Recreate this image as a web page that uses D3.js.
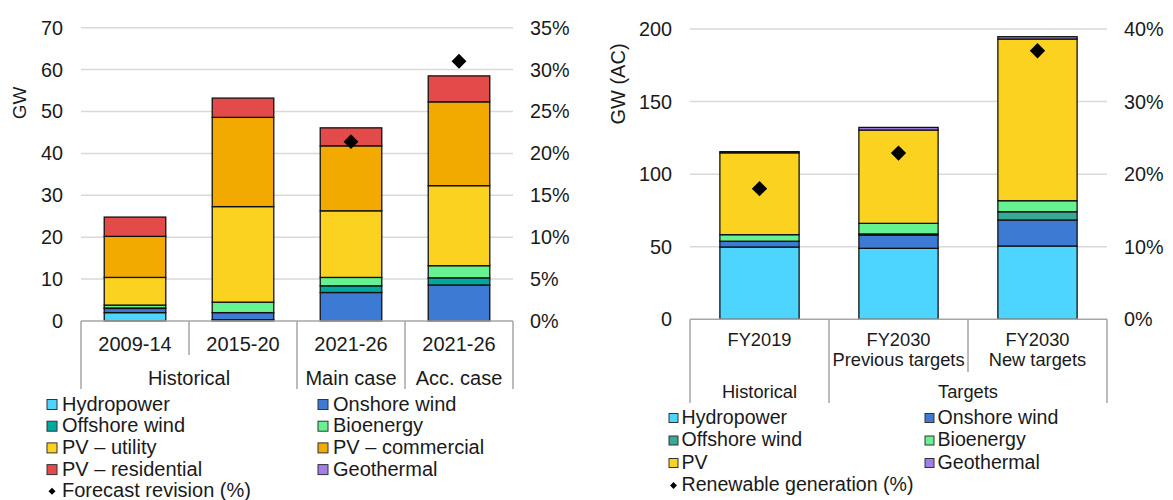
<!DOCTYPE html>
<html>
<head>
<meta charset="utf-8">
<script src="https://cdn.jsdelivr.net/npm/d3@7"></script>
<style>
  body { margin: 0; background: #fff; }
  svg { font-family: "Liberation Sans", Arial, sans-serif; }
</style>
</head>
<body>
<div id="chart"></div>
<script>
// Left panel data
var leftCategories = ['2009-14', '2015-20', '2021-26', '2021-26'];
var leftGroups = [
  {label: 'Historical', from: 0, to: 1},
  {label: 'Main case', from: 2, to: 2},
  {label: 'Acc. case', from: 3, to: 3}
];
var leftSeries = ['Hydropower', 'Onshore wind', 'Offshore wind', 'Bioenergy', 'PV \u2013 utility', 'PV \u2013 commercial', 'PV \u2013 residential', 'Geothermal'];
var leftHydro = [2.0, 0.3, 0, 0];
var leftOnshore = [1.0, 1.7, 6.8, 8.6];
var leftOffshore = [0.1, 0, 1.6, 1.7];
var leftBio = [0.7, 2.5, 2.0, 2.9];
var leftPvUtility = [6.6, 22.8, 15.9, 19.1];
var leftPvCommercial = [9.8, 21.3, 15.5, 20.0];
var leftPvResidential = [4.6, 4.6, 4.3, 6.2];
var leftGeo = [0, 0, 0, 0];
var leftRevision = [null, null, 21.4, 31.0];
var leftTicks = [0, 10, 20, 30, 40, 50, 60, 70];
var leftPctTicks = [0, 5, 10, 15, 20, 25, 30, 35];

// Right panel data
var rightCategories = [['FY2019'], ['FY2030', 'Previous targets'], ['FY2030', 'New targets']];
var rightGroups = [
  {label: 'Historical', from: 0, to: 0},
  {label: 'Targets', from: 1, to: 2}
];
var rightSeries = ['Hydropower', 'Onshore wind', 'Offshore wind', 'Bioenergy', 'PV', 'Geothermal'];
var rightHydro = [49.8, 48.9, 50.5];
var rightOnshore = [3.9, 9.1, 17.9];
var rightOffshore = [0.1, 0.8, 5.7];
var rightBio = [4.5, 7.3, 7.6];
var rightPv = [56.4, 64.3, 111.4];
var rightGeo = [0.8, 1.8, 1.6];
var rightGeneration = [18.0, 22.9, 37.0];
var rightTicks = [0, 50, 100, 150, 200];
var rightPctTicks = [0, 10, 20, 30, 40];

var colors = {
  'Hydropower': '#4dd5ff',
  'Onshore wind': '#3c7ad3',
  'Offshore wind': '#00a99d',
  'Bioenergy': '#66f291',
  'PV \u2013 utility': '#fcd221',
  'PV': '#fcd221',
  'PV \u2013 commercial': '#f2a900',
  'PV \u2013 residential': '#e34b4b',
  'Geothermal': '#a47de8'
};

var svg = d3.select('#chart').append('svg')
  .attr('width', 1173)
  .attr('height', 500);

function drawPanel(cfg) {
  var g = svg.append('g');
  var n = cfg.categories.length;
  var col = function (k) { return (cfg.colors && cfg.colors[k]) || colors[k]; };

  var x = d3.scaleBand()
    .domain(d3.range(n))
    .range([cfg.x0, cfg.x1])
    .paddingInner(0.43)
    .paddingOuter(0.215);
  var bandX = d3.scaleBand()
    .domain(d3.range(n))
    .range([cfg.x0, cfg.x1]);
  var y = d3.scaleLinear().domain([0, cfg.max]).range([cfg.y0, cfg.y1]);
  var yPct = d3.scaleLinear().domain([0, cfg.pctMax]).range([cfg.y0, cfg.y1]);

  // gridlines
  g.selectAll('.grid').data(cfg.ticks.slice(1)).enter().append('line')
    .attr('x1', cfg.x0).attr('x2', cfg.x1)
    .attr('y1', function (d) { return y(d); })
    .attr('y2', function (d) { return y(d); })
    .style('stroke', '#d9d9d9').style('stroke-width', 1.5);

  // left axis labels
  g.selectAll('.ly').data(cfg.ticks).enter().append('text')
    .attr('x', cfg.leftLabelX)
    .attr('y', function (d) { return y(d); })
    .attr('dy', '0.35em')
    .attr('text-anchor', 'end')
    .style('font-size', '19.8px')
    .style('fill', '#1a1a1a')
    .text(function (d) { return d; });

  // right axis labels
  g.selectAll('.ry').data(cfg.pctTicks).enter().append('text')
    .attr('x', cfg.rightLabelX)
    .attr('y', function (d) { return yPct(d); })
    .attr('dy', '0.35em')
    .style('font-size', '19.8px')
    .style('fill', '#1a1a1a')
    .text(function (d) { return d + '%'; });

  // axis title
  g.append('text')
    .attr('transform', 'translate(' + cfg.titleX + ',' + cfg.titleY + ') rotate(-90)')
    .attr('text-anchor', 'middle')
    .style('font-size', cfg.titleSize)
    .style('fill', '#1a1a1a')
    .text(cfg.title);

  // stacked bars
  var rows = d3.range(n).map(function (i) {
    var r = {i: i};
    cfg.series.forEach(function (s, k) { r[s] = cfg.values[k][i]; });
    return r;
  });
  var stacked = d3.stack().keys(cfg.series)(rows);
  g.selectAll('.layer').data(stacked).enter().append('g')
    .style('fill', function (d) { return col(d.key); })
    .selectAll('rect').data(function (d) { return d.filter(function (p) { return p[1] - p[0] > 0; }); })
    .enter().append('rect')
    .attr('x', function (d) { return x(d.data.i); })
    .attr('width', x.bandwidth())
    .attr('y', function (d) { return y(d[1]); })
    .attr('height', function (d) { return y(d[0]) - y(d[1]); })
    .style('stroke', '#111')
    .style('stroke-width', 1.3);

  // diamonds
  var sym = d3.symbol().type(d3.symbolDiamond2).size(cfg.markerSize);
  g.selectAll('.dia').data(cfg.markers.map(function (v, i) { return {v: v, i: i}; })
      .filter(function (d) { return d.v !== null; }))
    .enter().append('path')
    .attr('d', sym)
    .attr('transform', function (d) {
      return 'translate(' + (x(d.i) + x.bandwidth() / 2) + ',' + yPct(d.v) + ')';
    })
    .style('fill', '#000');

  // category box lines
  var lineColor = '#a6a6a6';
  g.append('line')
    .attr('x1', cfg.x0).attr('x2', cfg.x1)
    .attr('y1', cfg.y0).attr('y2', cfg.y0)
    .style('stroke', lineColor).style('stroke-width', 1.5);
  var edges = [];
  edges.push({x: bandX(0), full: true});
  d3.range(1, n).forEach(function (i) {
    var full = cfg.groups.some(function (gr) { return gr.from === i; });
    edges.push({x: bandX(i), full: full});
  });
  edges.push({x: cfg.x1, full: true});
  g.selectAll('.edge').data(edges).enter().append('line')
    .attr('x1', function (d) { return d.x; })
    .attr('x2', function (d) { return d.x; })
    .attr('y1', cfg.y0)
    .attr('y2', function (d) { return d.full ? cfg.boxBottom : cfg.innerBottom; })
    .style('stroke', lineColor).style('stroke-width', 1.5);

  // category labels
  cfg.categories.forEach(function (c, i) {
    var lines = Array.isArray(c) ? c : [c];
    lines.forEach(function (t, j) {
      g.append('text')
        .attr('x', bandX(i) + bandX.bandwidth() / 2)
        .attr('y', cfg.catY + j * cfg.catLine)
        .attr('text-anchor', 'middle')
        .style('font-size', cfg.catSize)
        .style('fill', '#1a1a1a')
        .text(t);
    });
  });
  cfg.groups.forEach(function (gr) {
    g.append('text')
      .attr('x', (bandX(gr.from) + bandX(gr.to) + bandX.bandwidth()) / 2)
      .attr('y', cfg.groupY)
      .attr('text-anchor', 'middle')
      .style('font-size', cfg.catSize)
      .style('fill', '#1a1a1a')
      .text(gr.label);
  });

  // legend
  var items = cfg.series.map(function (s) { return {key: s, type: 'box'}; });
  items.push({key: cfg.markerLabel, type: 'diamond'});
  var leg = g.selectAll('.leg').data(items).enter().append('g')
    .attr('transform', function (d, k) {
      var c = k < cfg.series.length ? k % 2 : 0;
      var row = Math.floor(k / 2);
      return 'translate(' + (cfg.legX + c * cfg.legColW) + ',' + (cfg.legY + row * cfg.legRowH) + ')';
    });
  var bs = cfg.legBox;
  leg.filter(function (d) { return d.type === 'box'; }).append('rect')
    .attr('x', 0).attr('y', -bs / 2 + 1).attr('width', bs).attr('height', bs)
    .style('fill', function (d) { return col(d.key); })
    .style('stroke', '#333').style('stroke-width', 1);
  leg.filter(function (d) { return d.type === 'diamond'; }).append('path')
    .attr('d', d3.symbol().type(d3.symbolDiamond2).size(cfg.legDiamond))
    .attr('transform', 'translate(' + (bs / 2) + ',1)')
    .style('fill', '#000');
  leg.append('text')
    .attr('x', cfg.legTextX)
    .attr('dy', '0.35em')
    .style('font-size', cfg.legSize)
    .style('fill', '#1a1a1a')
    .text(function (d) { return d.key; });
}

drawPanel({
  categories: leftCategories,
  groups: leftGroups,
  series: leftSeries,
  values: [leftHydro, leftOnshore, leftOffshore, leftBio, leftPvUtility, leftPvCommercial, leftPvResidential, leftGeo],
  markers: leftRevision,
  markerLabel: 'Forecast revision (%)',
  markerSize: 140,
  ticks: leftTicks, pctTicks: leftPctTicks,
  max: 70, pctMax: 35,
  x0: 81, x1: 513, y0: 321, y1: 27.7,
  leftLabelX: 63, rightLabelX: 530,
  title: 'GW', titleX: 25.5, titleY: 103, titleSize: '19px',
  catY: 351, catLine: 21, groupY: 384.7, catSize: '20px',
  boxBottom: 389, innerBottom: 355,
  legX: 47, legY: 403.5, legColW: 271, legRowH: 21.7,
  legBox: 10, legTextX: 15, legSize: '20px', legDiamond: 32
});

drawPanel({
  categories: rightCategories,
  groups: rightGroups,
  series: rightSeries,
  values: [rightHydro, rightOnshore, rightOffshore, rightBio, rightPv, rightGeo],
  colors: {'Offshore wind': '#38a899'},
  markers: rightGeneration,
  markerLabel: 'Renewable generation (%)',
  markerSize: 150,
  ticks: rightTicks, pctTicks: rightPctTicks,
  max: 200, pctMax: 40,
  x0: 690, x1: 1107, y0: 319.3, y1: 29,
  leftLabelX: 672, rightLabelX: 1124,
  title: 'GW (AC)', titleX: 624.5, titleY: 84, titleSize: '20px',
  catY: 345.5, catLine: 20, groupY: 397.5, catSize: '18.3px',
  boxBottom: 403, innerBottom: 372,
  legX: 669, legY: 417, legColW: 256, legRowH: 22.5,
  legBox: 9, legTextX: 12.5, legSize: '19.6px', legDiamond: 30
});
</script>
</body>
</html>
